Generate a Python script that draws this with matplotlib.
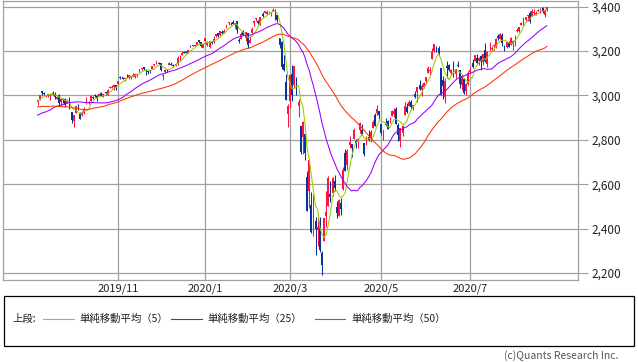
import numpy as np
import pandas as pd
import matplotlib
matplotlib.use('Agg')
import matplotlib.pyplot as plt
from matplotlib.patches import Rectangle

plt.rcParams['font.family'] = ['Noto Sans CJK JP', 'DejaVu Sans']

# 終値（移動平均の計算用、表示期間より前）2019/6/27 - 2019/9/9
pre_close = [2924.92, 2941.76,
             2964.33, 2973.01, 2995.82, 2990.41, 2975.95, 2979.63, 2993.07, 2999.91, 3013.77, 3014.30,
             3004.04, 2984.42, 2995.11, 2976.61, 2985.03, 3005.47, 3019.56, 3003.67, 3025.86, 3020.97,
             3013.18, 2980.38,
             2953.56, 2932.05, 2844.74, 2881.77, 2883.98, 2938.09, 2918.65, 2882.70, 2926.32, 2840.60,
             2847.60, 2888.68, 2923.65, 2900.51, 2924.43, 2922.95, 2847.11, 2878.38, 2869.16, 2887.94,
             2924.58, 2926.46,
             2906.27, 2937.78, 2976.00, 2978.71, 2978.43]

# 表示期間 2019/9/10 - 2020/8/21 の日足
holidays = ['2019-11-28', '2019-12-25', '2020-01-01', '2020-01-20', '2020-02-17',
            '2020-04-10', '2020-05-25', '2020-07-03']
dates = pd.bdate_range('2019-09-10', '2020-08-21', freq='C', holidays=holidays)

op = [2971.0, 2981.4, 3018.2, 3012.2, 2996.4, 2995.7, 3001.5, 3010.4, 3008.4, 2983.5, 3002.4, 2968.4, 2985.7, 2985.5, 2967.1,
      2983.7, 2924.8, 2885.4, 2918.6, 2944.2, 2920.4, 2911.1, 2918.6, 2963.1, 2965.8, 2973.6, 2989.7, 3000.8, 2996.8, 2996.5,
      3010.7, 2994.0, 3014.8, 3003.3, 3032.1, 3035.4, 3039.7, 3046.9,
      3050.7, 3078.9, 3080.8, 3075.1, 3087.0, 3081.3, 3080.3, 3089.3, 3084.2, 3090.8, 3107.9, 3117.9, 3127.5, 3114.7, 3108.5,
      3111.4, 3117.4, 3134.9, 3145.5, 3147.2,
      3143.9, 3087.4, 3103.5, 3119.2, 3134.6, 3141.9, 3135.4, 3135.8, 3141.2, 3166.6, 3183.6, 3195.4, 3195.2, 3192.3, 3223.3,
      3226.1, 3225.5, 3227.2, 3247.2, 3240.1, 3215.2,
      3244.7, 3226.4, 3217.6, 3241.9, 3238.6, 3266.0, 3281.0, 3271.1, 3285.4, 3282.3, 3303.0, 3323.7, 3321.0, 3330.0, 3315.8,
      3333.1, 3247.2, 3255.4, 3289.5, 3256.5, 3282.3,
      3235.7, 3280.6, 3324.9, 3344.9, 3335.5, 3318.3, 3365.9, 3370.5, 3365.9, 3378.1, 3369.0, 3380.4, 3380.5, 3360.5, 3257.6,
      3238.9, 3139.9, 3062.5, 2916.9,
      2974.3, 3096.5, 3045.8, 3075.7, 2954.2, 2863.9, 2813.5, 2825.6, 2630.9, 2570.0, 2508.6, 2425.7, 2436.5, 2393.5, 2431.9,
      2290.7, 2344.4, 2457.8, 2501.3, 2555.9, 2559.0, 2614.7,
      2498.1, 2458.5, 2514.9, 2578.3, 2738.7, 2685.0, 2777.0, 2782.5, 2805.1, 2795.6, 2799.3, 2842.4, 2845.6, 2784.8, 2787.9,
      2810.4, 2812.6, 2854.7, 2910.0, 2918.5, 2930.9,
      2869.1, 2815.0, 2868.9, 2883.1, 2878.3, 2908.8, 2915.5, 2939.5, 2865.9, 2794.5, 2829.9, 2913.9, 2948.6, 2953.6, 2970.0,
      2948.1, 3004.1, 3015.7, 3046.6, 3025.2,
      3038.8, 3064.2, 3098.9, 3111.6, 3163.8, 3199.9, 3213.3, 3213.4, 3123.5, 3071.0, 2993.8, 3131.0, 3136.1, 3101.6, 3140.3,
      3094.4, 3138.7, 3114.4, 3046.6, 3073.2, 3018.6, 3050.2,
      3105.9, 3143.6, 3155.3, 3166.4, 3153.1, 3176.2, 3152.5, 3205.1, 3141.1, 3226.0, 3208.4, 3224.2, 3224.3, 3268.5, 3254.9,
      3271.6, 3218.6, 3219.8, 3234.3, 3227.2, 3231.8, 3270.5,
      3288.3, 3289.9, 3317.4, 3323.2, 3340.1, 3356.0, 3370.3, 3355.5, 3372.9, 3368.7, 3380.9, 3387.0, 3392.5, 3360.5, 3386.0]

hi = [2979.4, 3000.9, 3020.1, 3017.3, 3002.2, 3006.2, 3007.8, 3021.2, 3016.4, 2999.2, 3007.9, 2989.8, 2987.3, 2987.3, 2983.9,
      2992.5, 2924.8, 2911.1, 2953.7, 2959.8, 2925.5, 2929.3, 2948.5, 2993.3, 2972.8, 3003.3, 2997.5, 3008.3, 3000.0, 3007.3,
      3014.6, 3004.8, 3016.1, 3027.4, 3044.1, 3047.9, 3050.1, 3046.9,
      3066.9, 3085.2, 3083.9, 3078.3, 3097.8, 3093.1, 3088.3, 3102.6, 3098.1, 3098.2, 3120.5, 3124.2, 3127.6, 3118.9, 3110.1,
      3112.9, 3133.8, 3142.7, 3154.3, 3150.3,
      3144.3, 3094.1, 3119.4, 3119.4, 3150.6, 3148.9, 3142.1, 3143.9, 3176.3, 3182.7, 3197.7, 3198.2, 3198.5, 3205.5, 3225.6,
      3227.8, 3226.4, 3240.1, 3247.9, 3240.9, 3231.7,
      3258.1, 3246.2, 3246.8, 3244.9, 3267.1, 3275.6, 3282.9, 3288.1, 3294.3, 3298.7, 3317.1, 3329.9, 3329.8, 3337.8, 3326.9,
      3333.2, 3258.8, 3285.8, 3293.5, 3285.9, 3282.3,
      3268.4, 3306.9, 3337.6, 3348.0, 3341.4, 3352.3, 3375.6, 3381.5, 3385.1, 3380.7, 3375.0, 3393.5, 3389.2, 3360.8, 3259.8,
      3247.0, 3182.5, 3097.1, 2959.7,
      3091.0, 3136.7, 3131.0, 3083.0, 2985.9, 2863.9, 2882.6, 2825.6, 2661.0, 2711.3, 2563.0, 2553.9, 2453.6, 2467.0, 2453.0,
      2300.7, 2449.7, 2571.4, 2637.0, 2615.9, 2631.8, 2641.4,
      2522.8, 2533.2, 2538.2, 2676.9, 2756.9, 2760.8, 2818.6, 2782.5, 2851.9, 2801.9, 2806.5, 2879.2, 2869.0, 2785.5, 2815.1,
      2844.9, 2842.7, 2887.7, 2921.2, 2954.9, 2930.9,
      2869.1, 2844.2, 2898.2, 2891.1, 2901.9, 2932.2, 2944.3, 2945.8, 2874.1, 2852.8, 2865.0, 2968.1, 2964.2, 2980.3, 2978.5,
      2956.8, 3021.7, 3036.3, 3068.7, 3049.2,
      3062.2, 3081.1, 3130.9, 3128.9, 3211.7, 3233.1, 3222.7, 3223.3, 3123.5, 3088.4, 3079.8, 3153.5, 3141.2, 3120.0, 3155.5,
      3120.9, 3154.9, 3115.0, 3086.3, 3073.7, 3053.9, 3111.5,
      3128.4, 3165.8, 3182.6, 3184.2, 3171.8, 3179.8, 3186.8, 3235.3, 3200.9, 3238.3, 3220.4, 3233.5, 3258.6, 3277.3, 3279.3,
      3280.0, 3227.3, 3241.4, 3243.7, 3264.7, 3250.9, 3272.2,
      3302.7, 3306.8, 3330.8, 3351.0, 3352.5, 3363.3, 3381.0, 3387.9, 3387.2, 3378.5, 3387.6, 3395.1, 3399.5, 3390.8, 3400.0]

lo = [2957.0, 2981.4, 3000.9, 3002.9, 2990.7, 2993.7, 2978.6, 3003.2, 2984.7, 2982.2, 2957.7, 2952.9, 2963.7, 2945.5, 2967.1,
      2938.7, 2874.9, 2855.9, 2918.6, 2935.7, 2892.7, 2907.4, 2917.1, 2963.1, 2962.9, 2973.6, 2985.2, 2991.8, 2976.3, 2995.4,
      2995.0, 2991.2, 3000.4, 3001.9, 3032.1, 3034.8, 3025.0, 3023.2,
      3050.7, 3074.9, 3072.2, 3065.9, 3080.2, 3073.6, 3075.8, 3084.7, 3078.8, 3083.3, 3104.6, 3112.1, 3113.5, 3091.4, 3094.6,
      3099.3, 3117.4, 3131.0, 3143.4, 3139.3,
      3110.8, 3070.3, 3102.5, 3103.8, 3134.6, 3135.5, 3126.1, 3133.2, 3138.5, 3156.5, 3183.6, 3191.0, 3191.1, 3192.3, 3216.0,
      3222.3, 3220.5, 3227.2, 3234.4, 3216.6, 3212.0,
      3235.5, 3222.3, 3214.6, 3232.4, 3236.7, 3263.7, 3260.9, 3268.4, 3277.2, 3280.7, 3302.8, 3318.9, 3316.6, 3320.0, 3301.9,
      3281.5, 3234.5, 3253.2, 3271.9, 3242.8, 3214.7,
      3235.7, 3280.6, 3313.8, 3334.4, 3322.1, 3317.8, 3352.7, 3369.7, 3360.5, 3366.2, 3355.6, 3378.8, 3341.0, 3328.5, 3214.7,
      3118.8, 3109.0, 2977.4, 2855.8,
      2945.2, 2976.6, 3034.4, 2999.8, 2901.5, 2734.4, 2734.0, 2707.2, 2478.9, 2492.4, 2380.9, 2367.0, 2280.5, 2319.8, 2295.6,
      2191.9, 2344.4, 2407.5, 2500.7, 2520.0, 2545.3, 2571.2,
      2447.5, 2455.8, 2460.0, 2574.6, 2657.7, 2663.3, 2762.4, 2721.2, 2805.1, 2761.5, 2764.3, 2830.9, 2820.4, 2727.1, 2776.0,
      2794.3, 2791.8, 2852.9, 2860.7, 2912.2, 2892.5,
      2821.6, 2797.9, 2863.6, 2847.7, 2876.5, 2908.8, 2903.4, 2869.6, 2793.2, 2766.6, 2816.8, 2913.9, 2922.4, 2953.6, 2938.6,
      2933.6, 2988.2, 2969.8, 3023.4, 2998.6,
      3031.5, 3051.6, 3098.9, 3090.4, 3163.8, 3196.0, 3193.1, 3181.5, 2999.5, 2984.5, 2965.7, 3076.1, 3108.0, 3093.5, 3083.1,
      3079.4, 3127.1, 3032.1, 3024.0, 3004.6, 2999.7, 3047.8,
      3101.2, 3124.5, 3155.3, 3142.9, 3136.5, 3115.7, 3136.2, 3149.4, 3127.7, 3200.8, 3198.6, 3205.7, 3215.2, 3247.8, 3253.1,
      3222.7, 3200.1, 3214.3, 3216.2, 3227.2, 3204.1, 3220.3,
      3284.5, 3286.4, 3317.4, 3318.1, 3328.7, 3335.4, 3326.4, 3355.5, 3363.4, 3361.6, 3379.2, 3370.2, 3369.7, 3354.7, 3379.3]

cl = [2979.39, 3000.93, 3009.57, 3007.39, 2997.96, 3005.70, 3006.73, 3006.79, 2992.07, 2991.78, 2966.60, 2984.87, 2977.62,
      2961.79, 2976.74,
      2940.25, 2887.61, 2910.63, 2952.01, 2938.79, 2893.06, 2919.40, 2938.13, 2970.27, 2966.15, 2995.68, 2989.69, 2997.95,
      2986.20, 3006.72, 2995.99, 3004.52, 3010.29, 3022.55, 3039.42, 3036.89, 3046.77, 3037.56,
      3066.91, 3078.27, 3074.62, 3076.78, 3085.18, 3093.08, 3087.01, 3091.84, 3094.04, 3096.63, 3120.46, 3122.03, 3120.18,
      3108.46, 3103.54, 3110.29, 3133.64, 3140.52, 3153.63, 3140.98,
      3113.87, 3093.20, 3112.76, 3117.43, 3145.91, 3135.96, 3132.52, 3141.63, 3168.57, 3168.80, 3191.45, 3192.52, 3191.14,
      3205.37, 3221.22, 3224.01, 3223.38, 3239.91, 3240.02, 3221.29, 3230.78,
      3257.85, 3234.85, 3246.28, 3237.18, 3253.05, 3274.70, 3265.35, 3288.13, 3283.15, 3289.29, 3316.81, 3329.62, 3320.79,
      3321.75, 3325.54, 3295.47, 3243.63, 3276.24, 3273.40, 3283.66, 3225.52,
      3248.92, 3297.59, 3334.69, 3345.78, 3327.71, 3352.09, 3357.75, 3379.45, 3373.94, 3380.16, 3370.29, 3386.15, 3373.23,
      3337.75, 3225.89, 3128.21, 3116.39, 2978.76, 2954.22,
      3090.23, 3003.37, 3130.12, 3023.94, 2972.37, 2746.56, 2882.23, 2741.38, 2480.64, 2711.02, 2386.13, 2529.19, 2398.10,
      2409.39, 2304.92, 2237.40, 2447.33, 2475.56, 2630.07, 2541.47, 2626.65, 2584.59,
      2470.50, 2526.90, 2488.65, 2663.68, 2659.41, 2749.98, 2789.82, 2761.63, 2846.06, 2783.36, 2799.55, 2874.56, 2823.16,
      2736.56, 2799.31, 2797.80, 2836.74, 2878.48, 2863.39, 2939.51, 2912.43,
      2830.71, 2842.74, 2868.44, 2848.42, 2881.19, 2929.80, 2930.32, 2870.12, 2820.00, 2852.50, 2863.70, 2953.91, 2922.94,
      2971.61, 2948.51, 2955.45, 2991.77, 3036.13, 3029.73, 3044.31,
      3055.73, 3080.82, 3122.87, 3112.35, 3193.93, 3232.39, 3207.18, 3190.14, 3002.10, 3041.31, 3066.59, 3124.74, 3113.49,
      3115.34, 3097.74, 3117.86, 3131.29, 3050.33, 3083.76, 3009.05, 3053.24, 3100.29,
      3115.86, 3130.01, 3179.72, 3145.32, 3169.94, 3152.05, 3185.04, 3155.22, 3197.52, 3226.56, 3215.57, 3224.73, 3251.84,
      3257.30, 3276.02, 3235.66, 3215.63, 3239.41, 3218.44, 3258.44, 3246.22, 3271.12,
      3294.61, 3306.51, 3327.77, 3349.16, 3351.28, 3360.47, 3333.69, 3380.35, 3373.43, 3372.85, 3381.99, 3389.78, 3374.85,
      3385.51, 3397.16]

ma_windows = [5, 25, 50]
ma_colors = ['#99cc00', '#9900ff', '#ff3300']
ma_labels = ['単純移動平均（5）', '単純移動平均（25）', '単純移動平均（50）']
yticks = [2200, 2400, 2600, 2800, 3000, 3200, 3400]
xtick_months = [(2019, 11), (2020, 1), (2020, 3), (2020, 5), (2020, 7)]

op = np.array(op); hi = np.array(hi); lo = np.array(lo); cl = np.array(cl)
n = len(cl)
x = np.arange(n)
full = pd.Series(pre_close + list(cl))

UP = '#ff1144'
DOWN = '#0a3399'
GRID = '#a0a0a0'

fig = plt.figure(figsize=(6.38, 3.62), dpi=100)
W, H = 638, 362
ax = fig.add_axes([3.3 / W, 1 - 279.7 / H, (578 - 3.3) / W, (279.7 - 1) / H])

up = cl >= op
colors = np.where(up, UP, DOWN)
ax.vlines(x, lo, hi, colors=colors, lw=0.75, zorder=2)
body_lo = np.minimum(op, cl)
body_h = np.maximum(np.abs(cl - op), 2.5)
ax.bar(x, body_h, bottom=body_lo, width=0.9, color=colors, lw=0, zorder=3)

for w, c in zip(ma_windows, ma_colors):
    ma = full.rolling(w).mean().values[len(pre_close):]
    ax.plot(x, ma, color=c, lw=0.75, zorder=4)

ax.set_xlim(-16.2, 254.7)
ax.set_ylim(2170, 3425)

xt = [int(np.argmax((dates.year == yy) & (dates.month == mm))) for yy, mm in xtick_months]
ax.set_xticks(xt)
ax.set_xticklabels([f'{yy}/{mm}' for yy, mm in xtick_months], fontsize=8, color='#222222')
ax.set_yticks(yticks)
ax.set_yticklabels([f'{v:,}' for v in yticks], fontsize=8.5, color='#222222')
ax.yaxis.tick_right()
ax.tick_params(axis='x', length=0, pad=3)
ax.tick_params(axis='y', length=7, width=0.8, color=GRID, pad=3)
ax.grid(True, color=GRID, lw=0.9)
ax.set_axisbelow(True)
for s in ax.spines.values():
    s.set_color(GRID)
    s.set_linewidth(0.9)

# 凡例と著作権表示（ピクセル座標）
lay = fig.add_axes([0, 0, 1, 1])
lay.set_xlim(0, W)
lay.set_ylim(H, 0)
lay.axis('off')
lay.add_patch(Rectangle((3.5, 295.5), 630, 50.5, fill=False, ec='black', lw=0.9))
ly = 318.5
lay.text(12, ly, '上段:', fontsize=7.5, va='center', ha='left', color='#222222')
for (x0, x1, tx), c, lab in zip([(43, 74, 79), (171, 202, 207), (315, 345, 351)], ma_colors, ma_labels):
    lay.plot([x0, x1], [ly, ly], color=c, lw=0.8)
    lay.text(tx, ly, lab, fontsize=7.5, va='center', ha='left', color='#222222')
lay.text(618, 356, '(c)Quants Research Inc.', fontsize=7.5, va='center', ha='right', color='#555555')

fig.savefig('out.png', dpi=100)
